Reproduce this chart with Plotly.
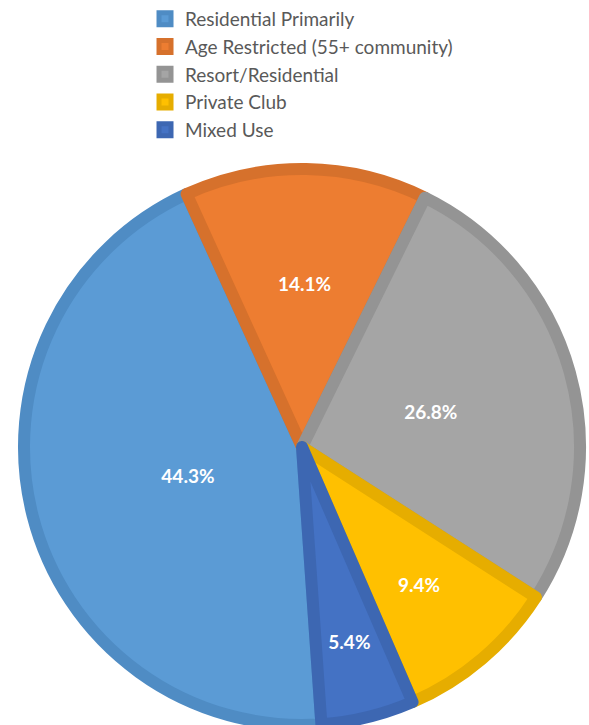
import plotly.graph_objects as go

categories = ["Residential Primarily", "Age Restricted (55+ community)", "Resort/Residential", "Private Club", "Mixed Use"]
values = [44.3, 14.1, 26.8, 9.4, 5.4]
fill_colors = ["#5B9BD5", "#ED7D31", "#A5A5A5", "#FFC000", "#4472C4"]
border_colors = ["#4F8CC4", "#D6712C", "#949494", "#E6AD00", "#3D67B2"]

W, H = 589, 725
cx, cy, R = 302, 447, 278
Rt = 0.84 * R


def dom(r):
    y0 = max(0.0, 1 - (cy + r) / H)
    return dict(x=[(cx - r) / W, (cx + r) / W], y=[y0, 1 - (cy - r) / H])


fig = go.Figure()
fig.add_trace(go.Pie(
    labels=categories,
    values=values,
    sort=False,
    direction="clockwise",
    rotation=176,
    marker=dict(colors=fill_colors, line=dict(color=border_colors, width=12)),
    textinfo="none",
    domain=dom(R),
    hoverinfo="label+percent",
))
fig.add_trace(go.Pie(
    labels=categories,
    values=values,
    sort=False,
    direction="clockwise",
    rotation=176,
    marker=dict(colors=["rgba(0,0,0,0)"] * len(values), line=dict(width=0)),
    texttemplate="%{value:.1f}%",
    textposition="inside",
    insidetextorientation="horizontal",
    textfont=dict(family="Lato", size=19, color="white", weight="bold"),
    domain=dom(Rt),
    showlegend=False,
    hoverinfo="skip",
))

fig.update_layout(
    width=W, height=H,
    margin=dict(l=0, r=0, t=0, b=0),
    paper_bgcolor="white",
    showlegend=True,
    uniformtext=dict(mode="show", minsize=19),
    legend=dict(x=0.2462, y=1.0, xanchor="left", yanchor="top",
                font=dict(family="Lato", size=19, color="#595959"),
                bgcolor="rgba(0,0,0,0)"),
)

fig.write_html(
    "out.html",
    config={"displayModeBar": False},
    post_script="document.body.style.margin='0';document.body.style.overflow='hidden';",
)
